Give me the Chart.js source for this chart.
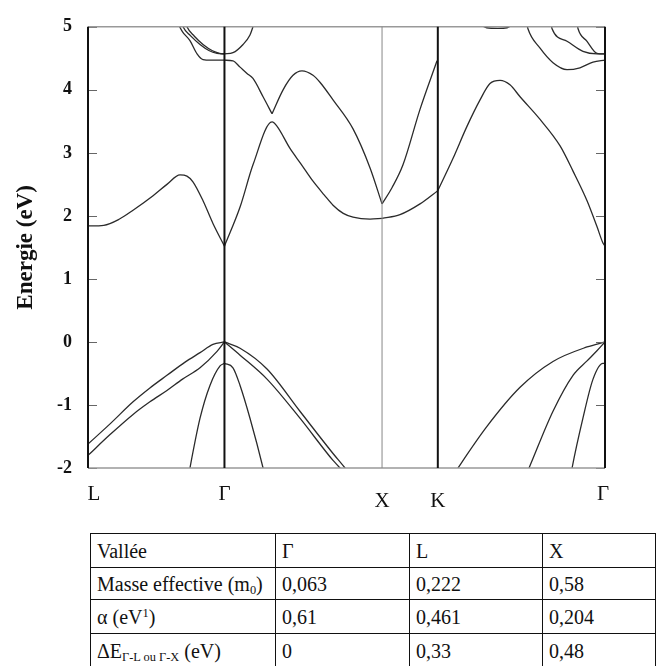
<!DOCTYPE html>
<html><head><meta charset="utf-8">
<script src="https://cdn.jsdelivr.net/npm/chart.js@4/dist/chart.umd.min.js"></script>
<style>
html,body{margin:0;padding:0;background:#fff;}
#wrap{position:relative;width:667px;height:666px;overflow:hidden;background:#fff;}
#cv{position:absolute;left:0;top:0;}
#tbl{position:absolute;left:90px;top:533px;border-collapse:collapse;font-family:"Liberation Serif","Times New Roman",serif;font-size:20px;color:#111;table-layout:fixed;}
#tbl td{border:1.5px solid #111;padding:0 0 0 6px;line-height:20px;white-space:nowrap;overflow:hidden;}
#tbl sub{font-size:0.62em;vertical-align:-0.25em;line-height:0;}
#tbl sup{font-size:0.62em;vertical-align:0.55em;line-height:0;}
</style></head>
<body><div id="wrap"><canvas id="cv" width="667" height="520"></canvas><table id="tbl"></table></div>
<script>
// ---- k-path (units of 2π/a) ----
const kPoints = [0, 0.866, 1.866, 2.220, 3.281];
const kLabels = ['L', 'Γ', 'X', 'K', 'Γ'];
const energyTicks = [-2, -1, 0, 1, 2, 3, 4, 5];

// ---- conduction band 1 ----
const cb1_LG = [[0,1.84],[0.10,1.85],[0.20,1.95],[0.286,2.09],[0.413,2.32],[0.501,2.50],[0.584,2.65],[0.628,2.63],[0.666,2.54],[0.730,2.24],[0.793,1.88],[0.866,1.52]];
const cb1_GX = [[0.866,1.52],[0.965,2.14],[1.047,2.81],[1.168,3.49],[1.20,3.42],[1.282,3.07],[1.35,2.83],[1.428,2.55],[1.50,2.33],[1.555,2.17],[1.62,2.04],[1.682,1.98],[1.790,1.95],[1.866,1.96]];
const cb1_XK = [[1.866,1.96],[1.980,2.02],[2.107,2.19],[2.220,2.40]];
const cb1_KG = [[2.220,2.40],[2.316,2.91],[2.405,3.42],[2.488,3.84],[2.551,4.10],[2.615,4.15],[2.678,4.08],[2.742,3.89],[2.869,3.53],[2.996,3.11],[3.078,2.71],[3.167,2.24],[3.230,1.83],[3.268,1.57],[3.281,1.52]];

// ---- conduction band 2 ----
const cb2_LG = [[0.560,5.1],[0.600,4.92],[0.647,4.78],[0.692,4.57],[0.730,4.48],[0.780,4.47],[0.866,4.47]];
const cb2_GXa = [[0.866,4.47],[0.920,4.46],[0.965,4.36],[1.009,4.26],[1.047,4.18],[1.111,3.89],[1.168,3.62]];
const cb2_GXb = [[1.168,3.62],[1.238,4.00],[1.301,4.23],[1.358,4.30],[1.428,4.23],[1.472,4.12],[1.555,3.84],[1.682,3.38],[1.790,2.76],[1.866,2.19]];
const cb2_XK = [[1.866,2.19],[1.930,2.45],[1.999,2.81],[2.107,3.69],[2.215,4.46]];

// ---- higher conduction bands near Γ ----
const cb3_LG = [[0.590,5.1],[0.603,5.0],[0.650,4.86],[0.711,4.72],[0.770,4.62],[0.819,4.58],[0.866,4.57]];
const cb4_LG = [[0.615,5.1],[0.628,5.0],[0.675,4.85],[0.730,4.72],[0.790,4.62],[0.835,4.58],[0.866,4.57]];
const cb5_GX = [[0.866,4.57],[0.920,4.59],[0.984,4.72],[1.028,4.87],[1.047,5.0],[1.060,5.1]];
const cb2_KG = [[2.780,5.1],[2.792,4.97],[2.869,4.66],[2.951,4.43],[3.040,4.32],[3.122,4.35],[3.205,4.44],[3.281,4.47]];
const cb3_KG = [[2.935,5.1],[2.945,4.97],[3.040,4.77],[3.141,4.61],[3.230,4.57],[3.281,4.57]];
const cb4_KG = [[3.100,5.1],[3.110,4.97],[3.167,4.77],[3.230,4.58],[3.281,4.57]];
const cb5_KG = [[2.470,5.06],[2.530,4.985],[2.600,4.975],[2.660,4.985],[2.710,5.06]];

// ---- valence bands ----
const hh_LG = [[0,-1.62],[0.140,-1.30],[0.286,-0.95],[0.393,-0.73],[0.501,-0.53],[0.616,-0.32],[0.711,-0.17],[0.793,-0.04],[0.866,0]];
const hh_GX = [[0.866,0],[0.965,-0.10],[1.136,-0.43],[1.345,-1.10],[1.555,-1.77],[1.631,-2.0],[1.660,-2.1]];
const hh_KG = [[2.322,-2.1],[2.348,-2.0],[2.532,-1.34],[2.742,-0.72],[2.951,-0.31],[3.167,-0.08],[3.281,0]];
const lh_LG = [[0,-1.80],[0.140,-1.47],[0.286,-1.15],[0.393,-0.95],[0.501,-0.77],[0.600,-0.59],[0.711,-0.41],[0.819,-0.15],[0.866,0]];
const lh_GX = [[0.866,0],[0.965,-0.21],[1.136,-0.59],[1.345,-1.21],[1.555,-1.88],[1.599,-2.0],[1.630,-2.1]];
const lh_KG = [[2.782,-2.1],[2.799,-2.0],[2.951,-1.10],[3.078,-0.53],[3.167,-0.30],[3.230,-0.14],[3.281,0]];
const so_LG = [[0.640,-2.1],[0.647,-2.0],[0.711,-1.21],[0.774,-0.69],[0.838,-0.38],[0.866,-0.34]];
const so_GX = [[0.866,-0.34],[0.920,-0.41],[0.965,-0.69],[1.028,-1.21],[1.111,-2.0],[1.120,-2.1]];
const so_KG = [[3.065,-2.1],[3.072,-2.0],[3.141,-1.21],[3.205,-0.59],[3.268,-0.34],[3.281,-0.34]];

const bands = [cb1_LG, cb1_GX, cb1_XK, cb1_KG, cb2_LG, cb2_GXa, cb2_GXb, cb2_XK, cb3_LG, cb4_LG, cb5_GX,
  cb2_KG, cb3_KG, cb4_KG, cb5_KG, hh_LG, hh_GX, hh_KG, lh_LG, lh_GX, lh_KG, so_LG, so_GX, so_KG];

// ---- table ----
const tableHeader = ['Vallée', 'Γ', 'L', 'X'];
const rowLabels = ['Masse effective (m<sub>0</sub>)', 'α (eV<sup>1</sup>)', 'ΔE<sub>Γ-L ou Γ-X</sub> (eV)'];
const masseEffective = ['0,063', '0,222', '0,58'];
const alphaValues = ['0,61', '0,461', '0,204'];
const deltaE = ['0', '0,33', '0,48'];

(function buildTable(){
  const t = document.getElementById('tbl');
  const widths = [185,134,133,113];
  const heights = [34,32,34,34];
  let html = '<colgroup>' + widths.map(w=>'<col style="width:'+w+'px">').join('') + '</colgroup>';
  const rows = [tableHeader, [rowLabels[0]].concat(masseEffective), [rowLabels[1]].concat(alphaValues), [rowLabels[2]].concat(deltaE)];
  rows.forEach((r,i)=>{
    html += '<tr style="height:'+heights[i]+'px">' + r.map(c=>'<td>'+c+'</td>').join('') + '</tr>';
  });
  t.innerHTML = html;
})();

const frame = {
  id: 'frame',
  afterDatasetsDraw(chart){
    const {ctx, chartArea:a, scales:{x, y}} = chart;
    ctx.save();
    // inner ticks
    ctx.strokeStyle = '#666'; ctx.lineWidth = 1;
    energyTicks.forEach(v=>{
      const py = Math.round(y.getPixelForValue(v)) + 0.5;
      ctx.beginPath(); ctx.moveTo(a.left, py); ctx.lineTo(a.left+9, py); ctx.stroke();
      ctx.beginPath(); ctx.moveTo(a.right-9, py); ctx.lineTo(a.right, py); ctx.stroke();
    });
    // top/bottom borders (grey)
    ctx.strokeStyle = '#999'; ctx.lineWidth = 1.6;
    ctx.beginPath(); ctx.moveTo(a.left, a.top); ctx.lineTo(a.right, a.top); ctx.stroke();
    ctx.beginPath(); ctx.moveTo(a.left, a.bottom); ctx.lineTo(a.right, a.bottom); ctx.stroke();
    // symmetry lines
    kPoints.forEach((k,i)=>{
      const px = x.getPixelForValue(k);
      const thin = kLabels[i] === 'X';
      ctx.strokeStyle = thin ? '#888' : '#111';
      ctx.lineWidth = thin ? 1 : 2;
      ctx.beginPath(); ctx.moveTo(px, a.top); ctx.lineTo(px, a.bottom); ctx.stroke();
    });
    // k labels
    ctx.fillStyle = '#111';
    ctx.font = '21px "Liberation Serif", serif';
    ctx.textAlign = 'center'; ctx.textBaseline = 'alphabetic';
    kPoints.forEach((k,i)=>{
      const lowered = (kLabels[i] === 'X' || kLabels[i] === 'K');
      let px = x.getPixelForValue(k);
      if (i === 0) px += 6;
      if (i === kPoints.length-1) px -= 2;
      ctx.fillText(kLabels[i], px, a.bottom + (lowered ? 39 : 32));
    });
    // y title
    ctx.translate(26, (a.top + a.bottom)/2);
    ctx.rotate(-Math.PI/2);
    ctx.font = 'bold 23px "Liberation Serif", serif';
    ctx.textBaseline = 'middle';
    ctx.fillText('Energie (eV)', 0, 0);
    ctx.restore();
  }
};

new Chart(document.getElementById('cv'), {
  type: 'line',
  data: {
    datasets: bands.map(b => ({
      data: b.map(p => ({x: p[0], y: p[1]})),
      borderColor: '#2b2b2b',
      borderWidth: 1.3,
      pointRadius: 0,
      fill: false,
      cubicInterpolationMode: 'monotone'
    }))
  },
  options: {
    responsive: false,
    animation: false,
    layout: {padding: {top: 17, right: 62, bottom: 52, left: 0}},
    plugins: {legend: {display: false}, tooltip: {enabled: false}},
    scales: {
      x: {type: 'linear', min: kPoints[0], max: kPoints[kPoints.length-1], display: false},
      y: {
        min: -2, max: 5,
        afterBuildTicks: s => { s.ticks = energyTicks.map(v => ({value: v})); },
        afterFit: s => { s.width = 88; },
        grid: {display: false, drawTicks: false},
        border: {display: false},
        ticks: {padding: 16, color: '#111', font: {family: '"Liberation Serif", serif', size: 18, weight: 'bold'}}
      }
    }
  },
  plugins: [frame]
});
</script>
</body></html>
